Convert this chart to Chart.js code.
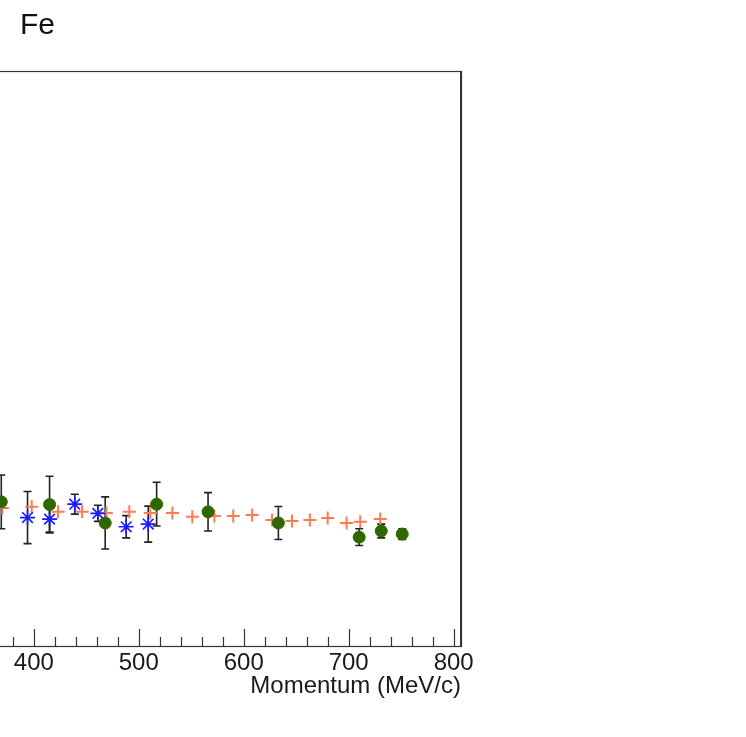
<!DOCTYPE html>
<html><head><meta charset="utf-8">
<script src="https://cdn.jsdelivr.net/npm/chart.js@4.4.1/dist/chart.umd.min.js"></script>
<style>
html,body{margin:0;padding:0;background:#fff;overflow:hidden;width:746px;height:737px;position:relative;}
#wrap{position:absolute;left:-400px;top:0;width:1146px;height:737px;}
#title{position:absolute;left:20px;top:9px;font-family:'Liberation Sans',Arial,sans-serif;font-size:30px;line-height:30px;color:#111;}
</style></head><body>
<div id="wrap"><canvas id="c" width="1146" height="737"></canvas></div>
<div id="title">Fe</div>
<script>
// x axis tick labels (MeV/c)
const xTickValues = [0, 100, 200, 300, 400, 500, 600, 700, 800];

// orange crosses (model curve)
const orangeMomentum = [370, 398, 423, 446, 469, 491, 511, 532, 551, 572, 590, 608, 627, 646, 663, 680, 698, 711, 730];
const orangeValue    = [360, 363, 350, 350, 347, 350, 347, 347, 337, 339, 339, 342, 329, 326, 329, 334, 321, 324, 331];

// green circles (data set 1)
const greenMomentum = [369, 415, 468, 517, 566, 633, 710, 731, 751];
const greenValue    = [376, 369, 321, 370, 350, 321, 284, 300, 292];
const greenError    = [70, 74, 68, 57, 50, 43, 22, 18, 14];

// blue asterisks (data set 2)
const blueMomentum = [394, 415, 439, 461, 488, 509];
const blueValue    = [335, 331, 370, 346, 311, 318];
const blueError    = [68, 34, 26, 21, 29, 47];

const toPts = (xs, ys) => xs.map((x, i) => ({x: x, y: ys[i]}));

const errorBars = {
  id: 'errorBars',
  beforeDatasetsDraw(chart) {
    const {ctx, scales: {x, y}} = chart;
    ctx.save();
    ctx.strokeStyle = '#222';
    ctx.lineWidth = 1.6;
    chart.data.datasets.forEach(ds => {
      if (!ds.errors) return;
      ds.data.forEach((p, i) => {
        const e = ds.errors[i];
        const px = x.getPixelForValue(p.x);
        const y1 = y.getPixelForValue(p.y + e);
        const y2 = y.getPixelForValue(p.y - e);
        ctx.beginPath();
        ctx.moveTo(px, y1); ctx.lineTo(px, y2);
        ctx.moveTo(px - 4, y1); ctx.lineTo(px + 4, y1);
        ctx.moveTo(px - 4, y2); ctx.lineTo(px + 4, y2);
        ctx.stroke();
      });
    });
    ctx.restore();
  }
};

const frame = {
  id: 'frame',
  afterDraw(chart) {
    const {ctx, chartArea: a, scales: {x}} = chart;
    ctx.save();
    ctx.strokeStyle = '#333';
    ctx.lineWidth = 1.2;
    ctx.strokeRect(a.left + 0.5, a.top + 0.5, a.right - a.left, a.bottom - a.top);
    ctx.lineWidth = 2;
    ctx.beginPath(); ctx.moveTo(a.right, a.top); ctx.lineTo(a.right, a.bottom + 1); ctx.stroke();
    ctx.lineWidth = 1.2;
    ctx.beginPath();
    for (let v = 0; v <= x.max; v += 20) {
      const px = Math.round(x.getPixelForValue(v)) + 0.5;
      const len = (v % 100 === 0) ? 17 : 9;
      ctx.moveTo(px, a.bottom); ctx.lineTo(px, a.bottom - len);
    }
    ctx.stroke();
    ctx.restore();
  }
};

new Chart(document.getElementById('c'), {
  type: 'scatter',
  data: {
    datasets: [
      {
        label: 'green', data: toPts(greenMomentum, greenValue), errors: greenError,
        pointStyle: 'circle', pointRadius: 6, backgroundColor: '#2f6800', borderColor: '#2f6800', borderWidth: 1
      },
      {
        label: 'blue', data: toPts(blueMomentum, blueValue), errors: blueError,
        pointStyle: 'star', pointRadius: 7.5, backgroundColor: '#1a1aff', borderColor: '#1a1aff', borderWidth: 1.6
      },
      {
        label: 'orange', data: toPts(orangeMomentum, orangeValue),
        pointStyle: 'cross', pointRadius: 6.5, backgroundColor: '#ff7a52', borderColor: '#ff7a52', borderWidth: 2
      }
    ]
  },
  options: {
    responsive: false,
    devicePixelRatio: 1,
    animation: false,
    events: [],
    layout: {padding: {left: 14, right: 285, top: 71, bottom: 31}},
    plugins: {legend: {display: false}, tooltip: {enabled: false}, title: {display: false}},
    scales: {
      x: {
        type: 'linear', min: 0, max: 807,
        grid: {display: false, drawTicks: false},
        border: {display: false},
        afterBuildTicks: s => { s.ticks = xTickValues.map(v => ({value: v})); },
        afterFit: s => { s.height = 60; },
        ticks: {
          padding: 3, maxRotation: 0, autoSkip: false, color: '#1a1a1a',
          font: {family: "'Liberation Sans', Arial, sans-serif", size: 24}
        },
        title: {
          display: true, text: 'Momentum (MeV/c)', align: 'end', color: '#1a1a1a',
          font: {family: "'Liberation Sans', Arial, sans-serif", size: 24},
          padding: {top: 0, bottom: 5}
        }
      },
      y: {type: 'linear', min: 0, max: 1500, display: false}
    }
  },
  plugins: [errorBars, frame]
});
</script>
</body></html>
